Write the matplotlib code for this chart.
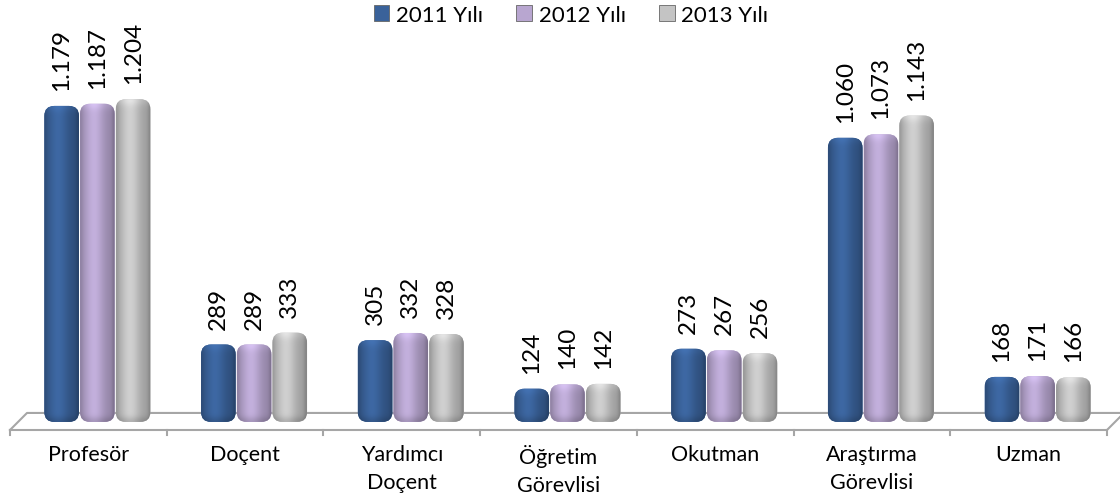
import numpy as np
import matplotlib
matplotlib.use("Agg")
import matplotlib.pyplot as plt
from matplotlib.patches import FancyBboxPatch, Patch

plt.rcParams["font.family"] = ["Lato", "DejaVu Sans"]

# data
categories = ["Profesör", "Doçent", "Yardımcı\nDoçent", "Öğretim\nGörevlisi",
              "Okutman", "Araştırma\nGörevlisi", "Uzman"]
years = ["2011 Yılı", "2012 Yılı", "2013 Yılı"]
y2011 = [1179, 289, 305, 124, 273, 1060, 168]
y2012 = [1187, 289, 332, 140, 267, 1073, 171]
y2013 = [1204, 333, 328, 142, 256, 1143, 166]
colors = ["#3A629A", "#B8A6D0", "#C4C4C4"]

W, H = 1120, 502
fig = plt.figure(figsize=(W / 100, H / 100), dpi=100)
# axes spans the front edge of the floor
ax = fig.add_axes([10 / W, (H - 431) / H, 1097 / W, 401 / H])
ax.set_xlim(-0.5, 6.5)
ax.set_ylim(-30, 1466)
ax.axis("off")

px_x = 7 / 1097      # data units per pixel, x
px_y = 1496 / 401    # data units per pixel, y

# floor (pseudo 3D)
depth = 17 * px_x
back_y = 33.6
floor_col = "#A6A6A6"
ax.plot([-0.5, -0.5 + depth, 6.5 + depth], [-30, back_y, back_y],
        color=floor_col, lw=1.5, clip_on=False, zorder=1)
ax.plot([-0.5, 6.5, 6.5 + depth], [-30, -30, back_y],
        color=floor_col, lw=1.5, clip_on=False, zorder=5)
for t in np.arange(-0.5, 7.0, 1.0):
    ax.plot([t, t], [-30, -30 - 5 * px_y], color=floor_col, lw=1.5,
            clip_on=False, zorder=5)

x = np.arange(len(categories))
shift = 9 * px_x
bw = 35.7 * px_x
series = [y2011, y2012, y2013]


def shade(color, hpx, wpx):
    base = np.array(matplotlib.colors.to_rgb(color))
    t = np.linspace(0, 1, max(int(wpx), 2))
    hprof = 0.80 + 0.26 * np.exp(-((t - 0.40) / 0.30) ** 2)
    hprof -= 0.12 * np.exp(-((t - 1.0) / 0.08) ** 2)
    hprof -= 0.06 * np.exp(-((t - 0.0) / 0.08) ** 2)
    rows = max(int(hpx), 2)
    yy = np.arange(rows)[:, None]  # 0 = top
    vprof = 1.0 + 0.10 * np.exp(-(yy / 6.0) ** 2) - 0.14 * np.exp(-((rows - 1 - yy) / 5.0) ** 2)
    img = base[None, None, :] * (hprof[None, :, None] * vprof[:, :, None])
    return np.clip(img, 0, 1)


for k, vals in enumerate(series):
    bars = ax.bar(x + shift + (k - 1) * bw, vals, width=bw * 0.97, alpha=0)
    for rect, v in zip(bars, vals):
        x0, w, h = rect.get_x(), rect.get_width(), rect.get_height()
        r = 10 * px_x
        patch = FancyBboxPatch((x0, 0), w, h,
                               boxstyle=f"round,pad=0,rounding_size={r}",
                               mutation_aspect=px_y / px_x,
                               facecolor=colors[k], edgecolor="none", zorder=3)
        ax.add_patch(patch)
        im = ax.imshow(shade(colors[k], h / px_y, w / px_x),
                       extent=[x0, x0 + w, 0, h], aspect="auto", zorder=3.5,
                       interpolation="bilinear")
        im.set_clip_path(patch)
        ax.annotate(f"{v:,}".replace(",", "."), (x0 + w / 2, h),
                    xytext=(0, 11.5), textcoords="offset points",
                    rotation=90, ha="center", va="bottom", fontsize=17.5,
                    annotation_clip=False)

for i, c in enumerate(categories):
    ax.text(i, -30 - 14 * px_y, c, ha="center", va="top", fontsize=15.5,
            linespacing=1.5)

ax.set_xlim(-0.5, 6.5)
ax.set_ylim(-30, 1466)

handles = [Patch(facecolor=c, edgecolor="#666666", lw=0.6) for c in colors]
fig.legend(handles, years, loc="center", bbox_to_anchor=(571 / W, 1 - 16 / H),
           ncol=3, frameon=False, fontsize=16, handlelength=0.7,
           handleheight=0.7, handletextpad=0.3, columnspacing=1.5,
           borderaxespad=0)

fig.savefig("out.png", dpi=100)
